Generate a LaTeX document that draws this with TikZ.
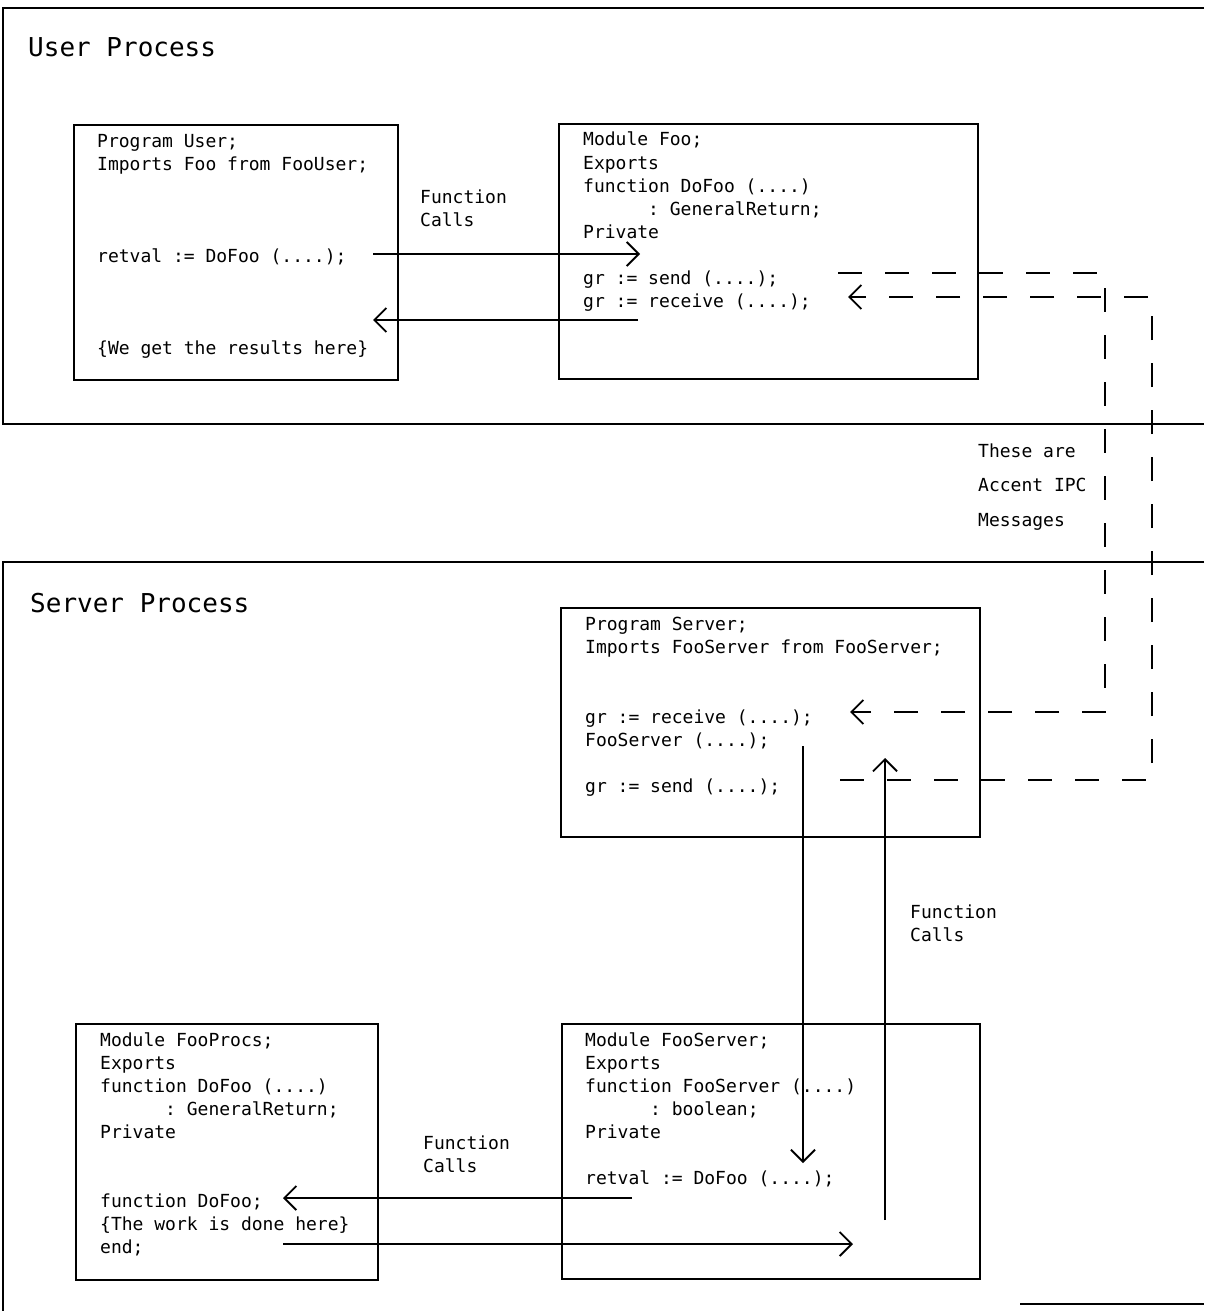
\documentclass[tikz,border=0pt]{standalone}
\usepackage{fontspec}
\setmonofont{DejaVu Sans Mono}
\usetikzlibrary{arrows.meta}
\tikzset{
  codebox/.style={draw, line width=1.9pt, rectangle, anchor=north west, inner sep=0pt},
  frameline/.style={line width=1.9pt},
  ln/.style={anchor=base west, inner sep=0pt, font=\ttfamily\fontsize{18}{23}\selectfont},
  ttl/.style={anchor=base west, inner sep=0pt, font=\ttfamily\fontsize{26}{30}\selectfont},
  callarrow/.style={line width=1.9pt, -{Straight Barb[length=12pt,width=24pt,line width=1.9pt]}},
  ipc/.style={line width=2.1pt, dash pattern=on 24pt off 23pt, -{Straight Barb[length=12pt,width=24pt,line width=1.9pt]}}
}
\newcommand{\indentsp}[1]{\phantom{#1}}
\begin{document}
\begin{tikzpicture}[x=1pt,y=-1pt]
\useasboundingbox[fill=white] (0,0) rectangle (1204,1311);

% process frames
\draw[frameline] (1204,8) -- (3,8) -- (3,424) -- (1204,424);
\draw[frameline] (1204,562) -- (3,562) -- (3,1311);
\draw[frameline] (1020,1304) -- (1204,1304);
\node[ttl] (utitle) at (28,57) {User Process};
\node[ttl] (stitle) at (30,612) {Server Process};

% User program box
\node[codebox, minimum width=324pt, minimum height=255pt] (userprog) at (73,124) {};
\node[ln] (u1) at (97,147) {Program User;};
\node[ln] (u2) at (97,170) {Imports Foo from FooUser;};
\node[ln] (u3) at (97,262) {retval := DoFoo (....);};
\node[ln] (u4) at (97,354) {\{We get the results here\}};

% Module Foo box
\node[codebox, minimum width=419pt, minimum height=255pt] (modfoo) at (558,123) {};
\node[ln] (f1) at (583,146) {Module Foo;};
\node[ln] (f2) at (583,169) {Exports};
\node[ln] (f3) at (583,192) {function DoFoo (....)};
\node[ln] (f4) at (583,215) {\indentsp{000000}: GeneralReturn;};
\node[ln] (f5) at (583,238) {Private};
\node[ln] (f6) at (583,284) {gr := send (....);};
\node[ln] (f7) at (583,307) {gr := receive (....);};

\node[ln] (fc1) at (420,203) {Function};
\node[ln] (fc2) at (420,226) {Calls};

% IPC label
\node[ln] (ipc1) at (978,457) {These are};
\node[ln] (ipc2) at (978,491) {Accent IPC};
\node[ln] (ipc3) at (978,526) {Messages};

% Server program box
\node[codebox, minimum width=419pt, minimum height=229pt] (servprog) at (560,607) {};
\node[ln] (s1) at (585,630) {Program Server;};
\node[ln] (s2) at (585,653) {Imports FooServer from FooServer;};
\node[ln] (s3) at (585,723) {gr := receive (....);};
\node[ln] (s4) at (585,746) {FooServer (....);};
\node[ln] (s5) at (585,792) {gr := send (....);};

\node[ln] (fc3) at (910,918) {Function};
\node[ln] (fc4) at (910,941) {Calls};

% Module FooServer box
\node[codebox, minimum width=418pt, minimum height=255pt] (fooserver) at (561,1023) {};
\node[ln] (v1) at (585,1046) {Module FooServer;};
\node[ln] (v2) at (585,1069) {Exports};
\node[ln] (v3) at (585,1092) {function FooServer (....)};
\node[ln] (v4) at (585,1115) {\indentsp{000000}: boolean;};
\node[ln] (v5) at (585,1138) {Private};
\node[ln] (v6) at (585,1184) {retval := DoFoo (....);};

% Module FooProcs box
\node[codebox, minimum width=302pt, minimum height=256pt] (fooprocs) at (75,1023) {};
\node[ln] (p1) at (100,1046) {Module FooProcs;};
\node[ln] (p2) at (100,1069) {Exports};
\node[ln] (p3) at (100,1092) {function DoFoo (....)};
\node[ln] (p4) at (100,1115) {\indentsp{000000}: GeneralReturn;};
\node[ln] (p5) at (100,1138) {Private};
\node[ln] (p6) at (100,1207) {function DoFoo;};
\node[ln] (p7) at (100,1230) {\{The work is done here\}};
\node[ln] (p8) at (100,1253) {end;};

\node[ln] (fc5) at (423,1149) {Function};
\node[ln] (fc6) at (423,1172) {Calls};

% connector end points
\coordinate (a1s) at (373,254); \coordinate (a1e) at (640,254);
\coordinate (a2s) at (638,320); \coordinate (a2e) at (373,320);
\coordinate (d1s) at (838,273); \coordinate (d1c1) at (1105,273); \coordinate (d1c2) at (1105,712); \coordinate (d1e) at (850,712);
\coordinate (d2s) at (840,780); \coordinate (d2c1) at (1152,780); \coordinate (d2c2) at (1152,297); \coordinate (d2e) at (848,297);
\coordinate (b1s) at (803,746); \coordinate (b1e) at (803,1163);
\coordinate (b2s) at (885,1220); \coordinate (b2e) at (885,758);
\coordinate (h1s) at (632,1198); \coordinate (h1e) at (283,1198);
\coordinate (h2s) at (283,1244); \coordinate (h2e) at (853,1244);

\draw[callarrow] (a1s) -- (a1e);
\draw[callarrow] (a2s) -- (a2e);
\draw[ipc] (d1s) -- (d1c1) -- (d1c2) -- (d1e);
\draw[ipc] (d2s) -- (d2c1) -- (d2c2) -- (d2e);
\draw[callarrow] (b1s) -- (b1e);
\draw[callarrow] (b2s) -- (b2e);
\draw[callarrow] (h1s) -- (h1e);
\draw[callarrow] (h2s) -- (h2e);
\end{tikzpicture}
\end{document}
